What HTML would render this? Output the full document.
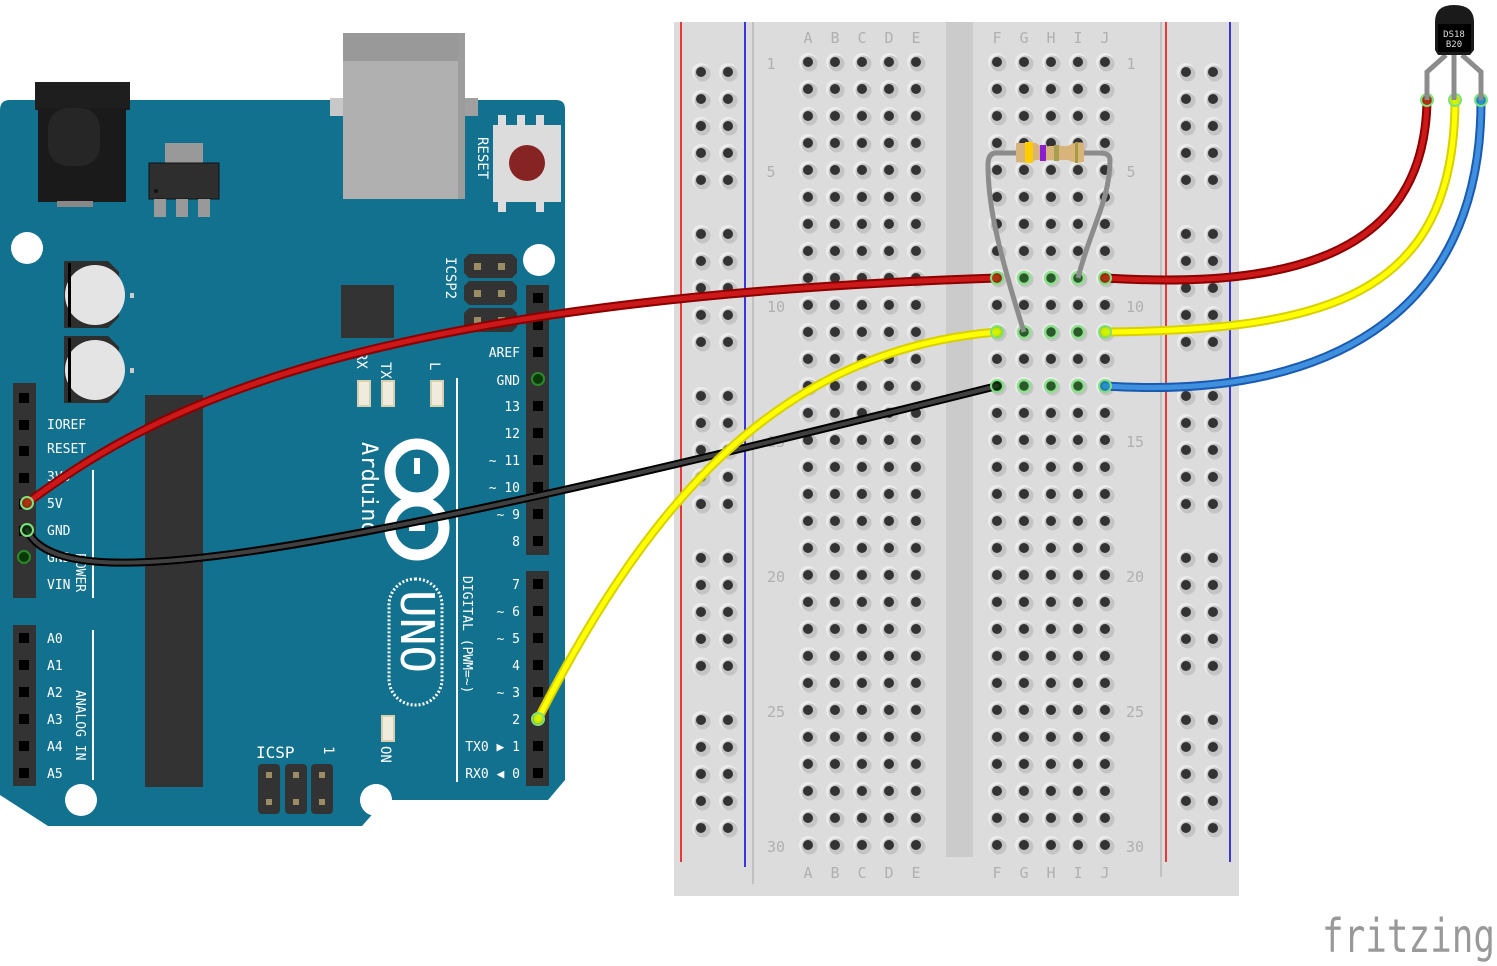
<!DOCTYPE html>
<html><head><meta charset="utf-8"><style>
html,body{margin:0;padding:0;background:#fff;width:1497px;height:966px;overflow:hidden}
svg{display:block}
text{font-family:"DejaVu Sans Mono","Liberation Mono",monospace}
</style></head><body>
<svg id="s" width="1497" height="966" viewBox="0 0 1497 966" xmlns="http://www.w3.org/2000/svg">
<rect x="343" y="33" width="122" height="166" fill="#b0b0b0"/>
<rect x="343" y="33" width="122" height="28" fill="#999"/>
<rect x="458" y="33" width="7" height="166" fill="#9c9c9c"/>
<path d="M10,100 H556 Q565,100 565,109 V780 L548,800 H385 L362,826 H48 L0,795 V110 Q0,100 10,100Z" fill="#12718f"/>
<rect x="343" y="61" width="122" height="138" fill="#b0b0b0"/>
<rect x="458" y="61" width="7" height="138" fill="#9c9c9c"/>
<rect x="330" y="98" width="13" height="18" fill="#c8c8c8"/>
<rect x="465" y="98" width="13" height="18" fill="#a0a0a0"/>
<rect x="35" y="82" width="95" height="28" fill="#1e1e1e"/>
<rect x="38" y="108" width="88" height="94" fill="#1a1a1a"/>
<rect x="48" y="108" width="52" height="58" rx="20" fill="#262626"/>
<rect x="57" y="201" width="36" height="6" fill="#888"/>
<rect x="165" y="143" width="38" height="20" fill="#999"/>
<rect x="149" y="163" width="70" height="36" fill="#2e2e2e" stroke="#111"/>
<circle cx="156" cy="191" r="2" fill="#111"/>
<rect x="154" y="199" width="12" height="18" fill="#999"/>
<rect x="176" y="199" width="12" height="18" fill="#999"/>
<rect x="198" y="199" width="12" height="18" fill="#999"/>
<rect x="493" y="125" width="68" height="77" fill="#dcdcdc"/>
<rect x="498" y="115" width="8" height="12" fill="#ddd"/><rect x="517" y="115" width="8" height="12" fill="#ddd"/><rect x="536" y="115" width="8" height="12" fill="#ddd"/>
<rect x="498" y="200" width="8" height="12" fill="#ddd"/><rect x="536" y="200" width="8" height="12" fill="#ddd"/>
<circle cx="527" cy="163" r="18" fill="#862424"/>
<text x="0" y="0" transform="translate(478,137) rotate(90)" fill="#fff" font-size="14">RESET</text>
<circle cx="27" cy="248" r="16" fill="#fff"/>
<circle cx="539" cy="260" r="16" fill="#fff"/>
<circle cx="81" cy="800" r="16" fill="#fff"/>
<circle cx="376" cy="800" r="16" fill="#fff"/>
<path d="M64,261 H108 L119,272 V317 L108,328 H64Z" fill="#2e2e2e"/>
<circle cx="95" cy="295" r="30" fill="#e4e4e4"/><rect x="68" y="263" width="3" height="64" fill="#000"/>
<path d="M64,336 H108 L119,347 V392 L108,403 H64Z" fill="#2e2e2e"/>
<circle cx="95" cy="370" r="30" fill="#e4e4e4"/><rect x="68" y="338" width="3" height="64" fill="#000"/>
<rect x="130" y="293" width="4" height="5" fill="#ccc"/><rect x="130" y="368" width="4" height="5" fill="#ccc"/>
<rect x="341" y="285" width="53" height="53" fill="#333"/>
<rect x="145" y="395" width="58" height="392" fill="#333"/>
<g fill="#333"><path d="M469,254 H512 L517,259 V273 L512,278 H469 L464,273 V259Z"/><path d="M469,281 H512 L517,286 V300 L512,305 H469 L464,300 V286Z"/><path d="M469,308 H512 L517,313 V327 L512,332 H469 L464,327 V313Z"/></g>
<text transform="translate(446,257) rotate(90)" fill="#fff" font-size="14">ICSP2</text>
<g fill="#f0ebdd" stroke="#d8cfae" stroke-width="2"><rect x="358" y="381" width="12" height="25"/><rect x="382" y="381" width="12" height="25"/><rect x="431" y="381" width="12" height="25"/><rect x="382" y="716" width="12" height="25"/></g>
<text transform="translate(357,352) rotate(90)" fill="#fff" font-size="14">RX</text>
<text transform="translate(381,362) rotate(90)" fill="#fff" font-size="14">TX</text>
<text transform="translate(430,362) rotate(90)" fill="#fff" font-size="14">L</text>
<text transform="translate(381,746) rotate(90)" fill="#fff" font-size="14">ON</text>
<line x1="457" y1="378" x2="457" y2="782" stroke="#fff" stroke-width="2"/>
<line x1="93" y1="470" x2="93" y2="598" stroke="#fff" stroke-width="2"/>
<line x1="93" y1="630" x2="93" y2="780" stroke="#fff" stroke-width="2"/>
<text transform="translate(362,442) rotate(90)" fill="#fff" font-size="22" font-family="Liberation Sans, sans-serif">Arduino</text>
<circle cx="417" cy="471" r="27" fill="none" stroke="#fff" stroke-width="11"/>
<circle cx="417" cy="528" r="27" fill="none" stroke="#fff" stroke-width="11"/>
<rect x="414" y="458" width="6" height="16" fill="#fff"/>
<rect x="409" y="525" width="16" height="6" fill="#fff"/>
<rect x="389" y="579" width="53" height="126" rx="26" fill="none" stroke="#fff" stroke-width="3" stroke-dasharray="2,2"/>
<text transform="translate(401,590) rotate(90)" fill="#fff" font-size="46" font-family="Liberation Sans, sans-serif">UNO</text>
<text transform="translate(463,576) rotate(90)" fill="#fff" font-size="13">DIGITAL (PWM=~)</text>
<text transform="translate(76,553) rotate(90)" fill="#fff" font-size="13">POWER</text>
<text transform="translate(76,690) rotate(90)" fill="#fff" font-size="13">ANALOG IN</text>
<g fill="#333"><rect x="258" y="764" width="22" height="50" rx="4"/><rect x="285" y="764" width="22" height="50" rx="4"/><rect x="311" y="764" width="22" height="50" rx="4"/></g>
<g fill="#9b8c63"><rect x="266" y="772" width="6" height="6"/><rect x="293" y="772" width="6" height="6"/><rect x="319" y="772" width="6" height="6"/><rect x="266" y="799" width="6" height="6"/><rect x="293" y="799" width="6" height="6"/><rect x="319" y="799" width="6" height="6"/>
<rect x="474" y="263" width="7" height="7"/><rect x="498" y="263" width="7" height="7"/><rect x="474" y="290" width="7" height="7"/><rect x="498" y="290" width="7" height="7"/><rect x="474" y="317" width="7" height="7"/><rect x="498" y="317" width="7" height="7"/></g>
<text x="256" y="758" fill="#fff" font-size="16">ICSP</text>
<text transform="translate(324,746) rotate(90)" fill="#fff" font-size="14">1</text>
<rect x="13" y="383" width="23" height="215" fill="#333"/>
<rect x="13" y="625" width="23" height="161" fill="#333"/>
<rect x="526" y="285" width="23" height="270" fill="#333"/>
<rect x="526" y="571" width="23" height="215" fill="#333"/>
<g id="pins" fill="#000"></g>
<g fill="#fff" font-size="13">
<text x="47" y="429">IOREF</text><text x="47" y="453">RESET</text><text x="47" y="481">3V3</text><text x="47" y="508">5V</text><text x="47" y="535">GND</text><text x="47" y="562">GND</text><text x="47" y="589">VIN</text>
<text x="47" y="643">A0</text><text x="47" y="670">A1</text><text x="47" y="697">A2</text><text x="47" y="724">A3</text><text x="47" y="751">A4</text><text x="47" y="778">A5</text>
<g text-anchor="end"><text x="520" y="357">AREF</text><text x="520" y="385">GND</text><text x="520" y="411">13</text><text x="520" y="438">12</text><text x="520" y="465">~ 11</text><text x="520" y="492">~ 10</text><text x="520" y="519">~ 9</text><text x="520" y="546">8</text>
<text x="520" y="589">7</text><text x="520" y="616">~ 6</text><text x="520" y="643">~ 5</text><text x="520" y="670">4</text><text x="520" y="697">~ 3</text><text x="520" y="724">2</text><text x="520" y="751">TX0 ▶ 1</text><text x="520" y="778">RX0 ◀ 0</text></g></g>

<rect x="674" y="22" width="565" height="874" fill="#dcdcdc"/>
<rect x="946" y="22" width="27" height="835" fill="#cbcbcb"/>
<line x1="681" y1="22" x2="681" y2="862" stroke="#e00" stroke-width="1.5"/>
<line x1="745" y1="22" x2="745" y2="867" stroke="#00d" stroke-width="1.5"/>
<line x1="1166" y1="22" x2="1166" y2="862" stroke="#e00" stroke-width="1.5"/>
<line x1="1230" y1="22" x2="1230" y2="862" stroke="#00d" stroke-width="1.5"/>
<line x1="753" y1="22" x2="753" y2="884" stroke="#b8b8b8" stroke-width="1.5"/>
<line x1="1161" y1="22" x2="1161" y2="877" stroke="#b8b8b8" stroke-width="1.5"/>
<g id="bb"></g>
<g fill="#b0b0b0" font-size="15" font-family="Liberation Sans, sans-serif" text-anchor="middle">
<text x="808" y="43">A</text><text x="835" y="43">B</text><text x="862" y="43">C</text><text x="889" y="43">D</text><text x="916" y="43">E</text>
<text x="997" y="43">F</text><text x="1024" y="43">G</text><text x="1051" y="43">H</text><text x="1078" y="43">I</text><text x="1105" y="43">J</text>
<text x="808" y="878">A</text><text x="835" y="878">B</text><text x="862" y="878">C</text><text x="889" y="878">D</text><text x="916" y="878">E</text>
<text x="997" y="878">F</text><text x="1024" y="878">G</text><text x="1051" y="878">H</text><text x="1078" y="878">I</text><text x="1105" y="878">J</text>
<text x="771" y="69">1</text><text x="771" y="177">5</text><text x="776" y="312">10</text><text x="776" y="447">15</text><text x="776" y="582">20</text><text x="776" y="717">25</text><text x="776" y="852">30</text>
<text x="1131" y="69">1</text><text x="1131" y="177">5</text><text x="1135" y="312">10</text><text x="1135" y="447">15</text><text x="1135" y="582">20</text><text x="1135" y="717">25</text><text x="1135" y="852">30</text>
</g>
<g id="hl"></g>

<path d="M1078,278 C1090,230 1110,200 1110,160 Q1110,153 1100,153 H1084 M1016,153 H996 Q988,153 988,165 C988,200 995,240 1024,332" fill="none" stroke="#8c8c8c" stroke-width="5"/>
<path d="M1016,143 H1036 Q1042,148 1050,146 H1068 Q1076,141 1084,143 V162 Q1076,164 1068,160 H1036 Q1028,164 1016,162Z" fill="#d9b47a"/>
<rect x="1025" y="142" width="8" height="21" fill="#ffcc00"/>
<rect x="1040" y="145" width="6" height="16" fill="#8a1ed0"/>
<rect x="1054" y="145" width="5" height="16" fill="#a8a050"/>
<rect x="1075" y="142" width="3" height="21" fill="#a89a40"/>

<g fill="none" stroke-linecap="round">
<path d="M27,503 C140,420 330,300 997,278" stroke="#8a0000" stroke-width="9"/>
<path d="M27,503 C140,420 330,300 997,278" stroke="#cc1818" stroke-width="5"/>
<path d="M1105,278 C1300,290 1425,250 1427,100" stroke="#8a0000" stroke-width="9"/>
<path d="M1105,278 C1300,290 1425,250 1427,100" stroke="#cc1818" stroke-width="5"/>
<path d="M27,530 C60,600 300,560 997,386" stroke="#000" stroke-width="8"/>
<path d="M27,530 C60,600 300,560 997,386" stroke="#404040" stroke-width="4"/>
<path d="M538,719 C650,500 780,350 997,332" stroke="#d8d000" stroke-width="9"/>
<path d="M538,719 C650,500 780,350 997,332" stroke="#ffff00" stroke-width="5"/>
<path d="M1105,332 C1320,330 1455,300 1455,100" stroke="#d8d000" stroke-width="9"/>
<path d="M1105,332 C1320,330 1455,300 1455,100" stroke="#ffff00" stroke-width="5"/>
<path d="M1105,386 C1320,400 1482,320 1481,100" stroke="#1a5ab0" stroke-width="9"/>
<path d="M1105,386 C1320,400 1482,320 1481,100" stroke="#4090e0" stroke-width="5"/>
</g>
<g stroke="#7de07d" stroke-width="2" fill-opacity="0.7">
<circle cx="27" cy="503" r="6" fill="#a04010"/><circle cx="27" cy="530" r="6" fill="#0a3a0a"/><circle cx="538" cy="719" r="6" fill="#c0f000"/>
<circle cx="997" cy="278" r="6" fill="#a04010"/><circle cx="1105" cy="278" r="6" fill="#a04010"/>
<circle cx="997" cy="332" r="6" fill="#c0f000"/><circle cx="1105" cy="332" r="6" fill="#c0f000"/>
<circle cx="997" cy="386" r="6" fill="#0a3a0a"/><circle cx="1105" cy="386" r="6" fill="#2090c0"/>
<circle cx="1427" cy="100" r="6" fill="#a04010"/><circle cx="1455" cy="100" r="6" fill="#c0f000"/><circle cx="1481" cy="100" r="6" fill="#2090c0"/>
</g>
<g fill="none" stroke="#8c8c8c" stroke-width="5"><path d="M1446,55 L1427,72 V100"/><path d="M1454,55 V100"/><path d="M1462,55 L1481,72 V100"/></g>
<path d="M1435,22 Q1435,5 1454,5 Q1474,5 1474,22 V50 L1470,55 H1438 L1435,50Z" fill="#1a1a1a"/>
<rect x="1438" y="24" width="33" height="28" fill="#000"/>
<text x="1454" y="37" fill="#ddd" font-size="9" text-anchor="middle" font-family="Liberation Sans, sans-serif">DS18</text>
<text x="1454" y="47" fill="#ddd" font-size="9" text-anchor="middle" font-family="Liberation Sans, sans-serif">B20</text>
<text x="1322" y="952" fill="#999" font-size="46" textLength="173" lengthAdjust="spacingAndGlyphs" font-family="DejaVu Sans, sans-serif">fritzing</text>
</svg>
<script>
var NS="http://www.w3.org/2000/svg";
function c(g,tag,a){var e=document.createElementNS(NS,tag);for(var k in a)e.setAttribute(k,a[k]);g.appendChild(e);return e;}
var bb=document.getElementById("bb");
function hole(x,y){c(bb,"circle",{cx:x,cy:y,r:9,fill:"#ececec"});c(bb,"circle",{cx:x+1.5,cy:y+1.5,r:8,fill:"#c4c4c4"});c(bb,"circle",{cx:x,cy:y,r:5,fill:"#333"});}
var cols=[808,835,862,889,916,997,1024,1051,1078,1105];
for(var r=0;r<30;r++)for(var i=0;i<10;i++)hole(cols[i],62+27*r);
for(var g=0;g<5;g++)for(var k=0;k<5;k++){var y=72+162*g+27*k;[701,728,1186,1213].forEach(function(x){hole(x,y);});}
var hl=document.getElementById("hl");
[[1024,278],[1051,278],[1078,278],[1024,332],[1051,332],[1078,332],[1024,386],[1051,386],[1078,386]].forEach(function(p){c(hl,"circle",{cx:p[0],cy:p[1],r:6,fill:"#2a5a2a",stroke:"#8ee08e","stroke-width":2.5});});
var pins=document.getElementById("pins");
function pin(x,y){c(pins,"rect",{x:x-5,y:y-5,width:10,height:10,fill:"#000"});}
for(var y=398;y<=584;y+=26.6)pin(24,Math.round(y));
for(var k=0;k<6;k++)pin(24,638+27*k);
for(var k=0;k<10;k++)pin(538,298+27*k);
for(var k=0;k<8;k++)pin(538,584+27*k);
c(pins,"circle",{cx:538,cy:379,r:6,fill:"#0a3a0a",stroke:"#2a8a2a","stroke-width":2});
c(pins,"circle",{cx:24,cy:557,r:6,fill:"#0a3a0a",stroke:"#2a8a2a","stroke-width":2});
</script>
</body></html>
